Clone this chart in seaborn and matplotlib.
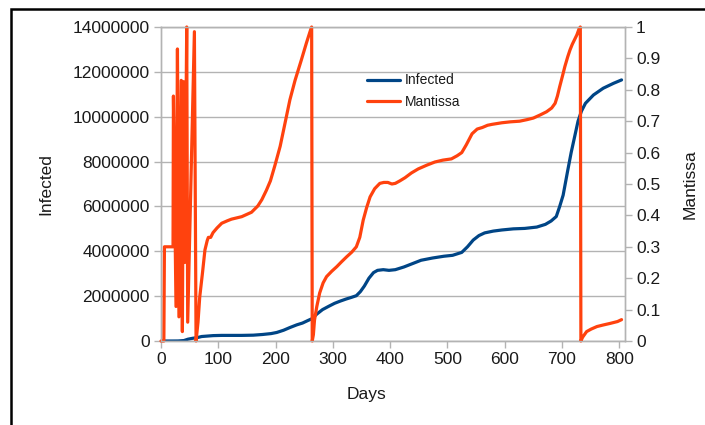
import matplotlib
matplotlib.use("Agg")
import matplotlib.pyplot as plt
import seaborn as sns
import pandas as pd
from matplotlib.patches import Rectangle
from matplotlib.ticker import FuncFormatter
from matplotlib.lines import Line2D

# ---------------- data ----------------
inf_days = [0, 10, 20, 30, 40, 47, 55, 63, 71, 81, 91, 106, 121, 141, 161, 177,
            192, 202, 214, 225, 237, 247, 257, 264, 272, 282, 293, 303, 313, 323,
            333, 341, 348, 355, 363, 371, 378, 388, 398, 409, 424, 439, 454, 474,
            494, 509, 525, 535, 545, 555, 565, 580, 595, 615, 635, 656, 671, 681,
            690, 696, 702, 710, 716, 722, 728, 734, 741, 755, 772, 790, 804]
infected_m = [0, 0, 0, 0.002, 0.02, 0.08, 0.12, 0.15, 0.2, 0.22, 0.24, 0.25, 0.25,
              0.25, 0.26, 0.29, 0.33, 0.38, 0.48, 0.6, 0.72, 0.8, 0.92, 1.0, 1.2,
              1.4, 1.55, 1.68, 1.78, 1.87, 1.95, 2.02, 2.2, 2.45, 2.8, 3.05, 3.15,
              3.18, 3.15, 3.18, 3.3, 3.45, 3.6, 3.7, 3.78, 3.82, 3.95, 4.2, 4.5,
              4.7, 4.82, 4.9, 4.95, 5.0, 5.02, 5.08, 5.2, 5.35, 5.55, 6.0, 6.5,
              7.6, 8.4, 9.1, 9.8, 10.25, 10.6, 10.97, 11.27, 11.49, 11.64]
infected = [v * 1e6 for v in infected_m]

man_days = [0, 5, 6, 21, 21.7, 26.2, 28.7, 31.3, 35.3, 37.3, 39.3, 41.4, 44.9,
            46.6, 58.3, 61.2, 64.6, 67.6, 72.6, 76.7, 80.7, 82.7, 86.7, 90.8,
            97.8, 106, 116, 123, 141, 158, 169, 176, 184, 191, 199, 202, 208, 214,
            225, 234, 245, 254, 261, 263, 264, 266, 268, 272, 277, 283, 289, 298,
            307, 315, 324, 333, 341, 347, 353, 359, 365, 373, 382, 389, 396, 403,
            409, 417, 426, 437, 449, 464, 478, 492, 507, 517, 525, 533, 543, 552,
            561, 570, 578, 595, 610, 626, 639, 650, 662, 673, 682, 688, 692, 696,
            701, 705, 710, 714, 718, 722, 726, 730, 732, 733, 736, 743, 751, 761,
            772, 784, 797, 804]
mantissa = [0.0, 0.0, 0.30, 0.30, 0.78, 0.11, 0.93, 0.077, 0.83, 0.03, 0.826,
            0.25, 1.0, 0.06, 0.985, 0.0, 0.06, 0.14, 0.22, 0.29, 0.32, 0.33, 0.33,
            0.345, 0.36, 0.375, 0.383, 0.388, 0.396, 0.41, 0.43, 0.45, 0.48, 0.51,
            0.56, 0.58, 0.62, 0.672, 0.768, 0.83, 0.895, 0.95, 0.99, 1.0, 0.0,
            0.02, 0.067, 0.11, 0.153, 0.185, 0.205, 0.222, 0.237, 0.252, 0.268,
            0.283, 0.30, 0.33, 0.385, 0.425, 0.459, 0.485, 0.502, 0.505, 0.505,
            0.50, 0.502, 0.51, 0.52, 0.535, 0.548, 0.56, 0.57, 0.576, 0.58, 0.59,
            0.60, 0.625, 0.66, 0.675, 0.68, 0.687, 0.69, 0.695, 0.698, 0.70,
            0.705, 0.71, 0.72, 0.73, 0.742, 0.757, 0.78, 0.81, 0.845, 0.874,
            0.905, 0.927, 0.945, 0.96, 0.975, 0.995, 1.0, 0.0, 0.012, 0.03,
            0.038, 0.046, 0.051, 0.056, 0.062, 0.068]

left_ticks = [0, 2000000, 4000000, 6000000, 8000000, 10000000, 12000000, 14000000]
right_ticks = [0, 0.1, 0.2, 0.3, 0.4, 0.5, 0.6, 0.7, 0.8, 0.9, 1]
x_ticks = [0, 100, 200, 300, 400, 500, 600, 700, 800]

# ---------------- style ----------------
sns.set_style("white")
plt.rcParams["font.family"] = ["Liberation Sans", "DejaVu Sans"]

BLUE = "#004586"
ORANGE = "#ff420e"
GRID = "#b3b3b3"
TEXT = "#1a1a1a"

fig = plt.figure(figsize=(7.05, 4.25), dpi=100)
ax = fig.add_axes([161 / 705, 1 - 341 / 425, 464 / 705, 314 / 425])
ax2 = ax.twinx()

df1 = pd.DataFrame({"Days": inf_days, "Infected": infected})
df2 = pd.DataFrame({"Days": man_days, "Mantissa": mantissa})

sns.lineplot(data=df1, x="Days", y="Infected", ax=ax, color=BLUE, lw=2.3,
             sort=False, estimator=None, legend=False)
sns.lineplot(data=df2, x="Days", y="Mantissa", ax=ax2, color=ORANGE, lw=2.3,
             sort=False, estimator=None, legend=False)
for ln in ax2.get_lines():
    ln.set_clip_on(False)

ax.set_xlim(0, 810)
ax.set_ylim(0, 14000000)
ax2.set_ylim(0, 1)

ax.set_xticks(x_ticks)
ax.set_yticks(left_ticks)
ax2.set_yticks(right_ticks)
ax.yaxis.set_major_formatter(FuncFormatter(lambda v, p: f"{int(round(v))}"))
ax2.yaxis.set_major_formatter(FuncFormatter(lambda v, p: f"{v:g}"))

ax.grid(axis="y", color=GRID, lw=1)
ax.grid(axis="x", visible=False)
ax2.grid(False)

for a in (ax, ax2):
    for s in a.spines.values():
        s.set_color(GRID)
        s.set_linewidth(1)
    a.tick_params(length=5, width=1, color=GRID, labelcolor=TEXT,
                  labelsize=12.5, pad=3)
ax.tick_params(axis="x", bottom=True, direction="out")
ax.tick_params(axis="y", left=True, direction="out")
ax2.tick_params(axis="y", right=True, direction="out")

ax.set_xlabel("Days", fontsize=12.5, color=TEXT)
ax.set_ylabel("Infected", fontsize=12.5, color=TEXT)
ax2.set_ylabel("Mantissa", fontsize=12.5, color=TEXT)
ax.xaxis.set_label_coords(0.442, -0.148)
ax.yaxis.set_label_coords(-0.233, 0.5)
ax2.yaxis.set_label_coords(1.124, 0.5)

handles = [Line2D([], [], color=BLUE, lw=2.3), Line2D([], [], color=ORANGE, lw=2.3)]
leg = ax2.legend(handles, ["Infected", "Mantissa"], loc="upper left",
                 bbox_to_anchor=(0.444, 0.852), frameon=False, fontsize=10,
                 handlelength=2.4, handletextpad=0.3, labelspacing=0.55,
                 borderpad=0, borderaxespad=0)
for t in leg.get_texts():
    t.set_color(TEXT)

# outer black frame of the original chart image
fig.add_artist(Rectangle((11 / 705, -0.2), 1.2, 1.2 - 9 / 425,
                         transform=fig.transFigure, fill=False,
                         edgecolor="black", lw=1.8))

fig.savefig("out.png", dpi=100)
